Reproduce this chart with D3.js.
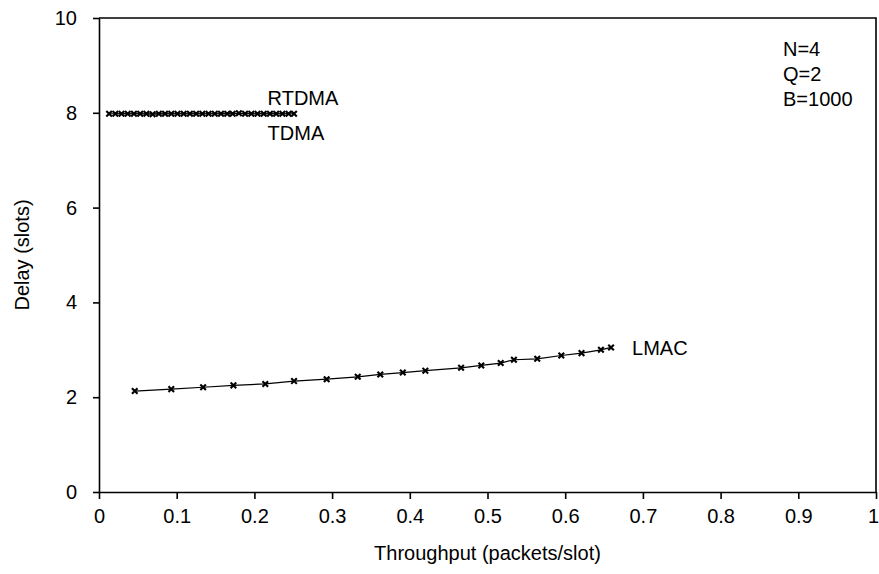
<!DOCTYPE html>
<html>
<head>
<meta charset="utf-8">
<script src="https://cdn.jsdelivr.net/npm/d3@7"></script>
<style>
  body { margin: 0; background: #fff; }
  text { font-family: "Liberation Sans", Arial, sans-serif; fill: #000; }
</style>
</head>
<body>
<div id="chart"></div>
<script>
// Throughput (x) and delay (y) for each protocol
const lmacX = [0.046, 0.093, 0.134, 0.173, 0.214, 0.251, 0.293, 0.333, 0.362, 0.391,
  0.420, 0.466, 0.492, 0.517, 0.534, 0.564, 0.595, 0.621, 0.646, 0.659];
const lmacY = [2.13, 2.17, 2.21, 2.25, 2.28, 2.34, 2.38, 2.43, 2.48, 2.52,
  2.56, 2.62, 2.67, 2.72, 2.79, 2.81, 2.88, 2.93, 3.00, 3.05];

const tdmaX = [0.013, 0.029, 0.045, 0.061, 0.077, 0.093, 0.109, 0.125, 0.141, 0.157,
  0.172, 0.188, 0.204, 0.220, 0.236, 0.251];
const tdmaY = [7.98, 7.98, 7.98, 7.98, 7.98, 7.98, 7.98, 7.98, 7.98, 7.98,
  7.98, 7.98, 7.98, 7.98, 7.98, 7.98];

const rtdmaX = [0.021, 0.037, 0.053, 0.069, 0.085, 0.101, 0.117, 0.133, 0.149, 0.165,
  0.180, 0.196, 0.212, 0.228, 0.244];
const rtdmaY = [7.98, 7.98, 7.98, 7.97, 7.98, 7.98, 7.98, 7.98, 7.98, 7.98,
  7.99, 7.98, 7.98, 7.98, 7.98];

const xTicks = [0, 0.1, 0.2, 0.3, 0.4, 0.5, 0.6, 0.7, 0.8, 0.9, 1];
const xTickLabels = ['0', '0.1', '0.2', '0.3', '0.4', '0.5', '0.6', '0.7', '0.8', '0.9', '1'];
const yTicks = [0, 2, 4, 6, 8, 10];
const yTickLabels = ['0', '2', '4', '6', '8', '10'];
const params = ['N=4', 'Q=2', 'B=1000'];

const width = 879;
const height = 574;
const margin = {left: 99, right: 3, top: 18, bottom: 82};

const svg = d3.select('#chart')
  .append('svg')
  .attr('width', width)
  .attr('height', height);

const x = d3.scaleLinear().domain([0, 1]).range([margin.left, width - margin.right]);
const y = d3.scaleLinear().domain([0, 10]).range([height - margin.bottom, margin.top]);

// Axes
const xAxis = svg.append('g')
  .attr('transform', `translate(0, ${y(0)})`)
  .call(d3.axisBottom(x)
    .tickValues(xTicks)
    .tickFormat((d, i) => xTickLabels[i])
    .tickSize(7)
    .tickSizeOuter(0)
    .tickPadding(10));

const yAxis = svg.append('g')
  .attr('transform', `translate(${x(0)}, 0)`)
  .call(d3.axisLeft(y)
    .tickValues(yTicks)
    .tickFormat((d, i) => yTickLabels[i])
    .tickSize(6)
    .tickSizeOuter(0)
    .tickPadding(16));

[xAxis, yAxis].forEach(a => {
  a.select('.domain').attr('stroke', '#000').attr('stroke-width', 1.6);
  a.selectAll('.tick line').attr('stroke', '#000').attr('stroke-width', 1.6);
  a.selectAll('.tick text')
    .style('font-size', '20px')
    .style('font-family', '"Liberation Sans", Arial, sans-serif');
});

// The last x label sits right at the edge, nudge it in a bit
xAxis.selectAll('.tick text')
  .filter(d => d === 1)
  .attr('dx', -3);

// Box top and right
svg.append('path')
  .attr('d', `M ${x(0)} ${y(10)} L ${x(1)} ${y(10)} L ${x(1)} ${y(0)}`)
  .attr('fill', 'none')
  .attr('stroke', '#000')
  .attr('stroke-width', 1.6);

// Axis titles
svg.append('text')
  .text('Throughput (packets/slot)')
  .attr('x', (x(0) + x(1)) / 2)
  .attr('y', 560)
  .style('text-anchor', 'middle')
  .style('font-size', '20px');

svg.append('text')
  .text('Delay (slots)')
  .attr('transform', `translate(29, ${y(5)}) rotate(-90)`)
  .style('text-anchor', 'middle')
  .style('font-size', '20px');

// Series
const line = d3.line().x(d => x(d[0])).y(d => y(d[1]));
const marker = d3.symbol().type(d3.symbolTimes).size(22);

const series = [
  d3.zip(lmacX, lmacY),
  d3.zip(tdmaX, tdmaY),
  d3.zip(rtdmaX, rtdmaY)
];

series.forEach(pts => {
  svg.append('path')
    .datum(pts)
    .attr('d', line)
    .attr('fill', 'none')
    .attr('stroke', '#000')
    .attr('stroke-width', 1.2);

  svg.append('g')
    .selectAll('path')
    .data(pts)
    .enter()
    .append('path')
    .attr('d', marker)
    .attr('transform', d => `translate(${x(d[0])}, ${y(d[1])})`)
    .attr('fill', 'none')
    .attr('stroke', '#000')
    .attr('stroke-width', 2.1);
});

// Series labels
const labels = [
  {text: 'RTDMA', x: 0.217, y: 8.16},
  {text: 'TDMA', x: 0.217, y: 7.43},
  {text: 'LMAC', x: 0.686, y: 2.89}
];
svg.append('g')
  .selectAll('text')
  .data(labels)
  .enter()
  .append('text')
  .text(d => d.text)
  .attr('x', d => x(d.x))
  .attr('y', d => y(d.y))
  .style('font-size', '20px');

// Parameter notes
svg.append('g')
  .selectAll('text')
  .data(params)
  .enter()
  .append('text')
  .text(d => d)
  .attr('x', 783)
  .attr('y', (d, i) => 56 + i * 25)
  .style('font-size', '20px');
</script>
</body>
</html>
